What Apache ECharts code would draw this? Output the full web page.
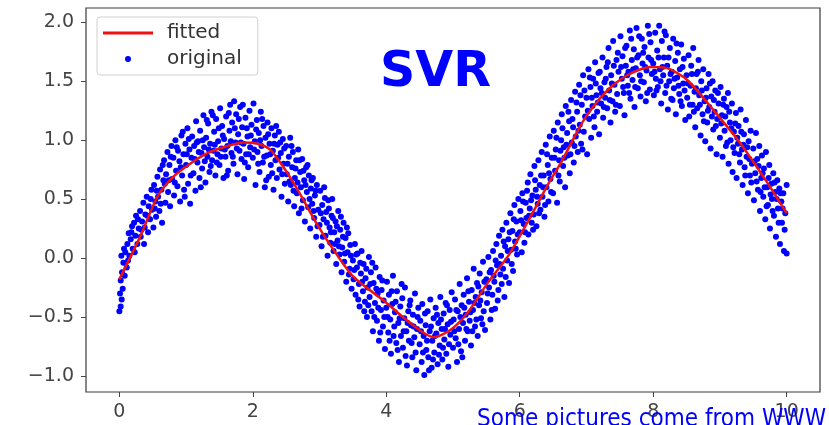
<!DOCTYPE html>
<html>
<head>
<meta charset="utf-8">
<script src="https://cdn.jsdelivr.net/npm/echarts@6/dist/echarts.min.js"></script>
<style>
  html, body { margin: 0; padding: 0; background: #fff; }
  #chart { width: 829px; height: 425px; }
</style>
</head>
<body>
<div id="chart"></div>
<script>
/*==========坐标轴刻度==========*/
const xTicks = [0, 2, 4, 6, 8, 10]
const yTicks = [-1, -0.5, 0, 0.5, 1, 1.5, 2]

/*==========拟合曲线 (fitted)==========*/
const fittedX = [0, 0.31, 0.57, 0.81, 1.06, 1.32, 1.56, 1.86, 2.07, 2.26, 2.46, 2.67, 2.97, 3.21, 3.51, 3.96, 4.36, 4.71, 4.96, 5.21, 5.52, 5.84, 6.16, 6.46, 6.61, 6.96, 7.31, 7.61, 7.96, 8.21, 8.51, 8.91, 9.31, 9.71, 10.0]
const fittedY = [-0.18, 0.18, 0.52, 0.69, 0.80, 0.89, 0.94, 0.98, 0.97, 0.92, 0.77, 0.58, 0.28, 0.07, -0.16, -0.36, -0.55, -0.67, -0.61, -0.47, -0.21, 0.03, 0.35, 0.66, 0.80, 1.17, 1.42, 1.55, 1.62, 1.61, 1.51, 1.25, 0.97, 0.64, 0.38]

/*==========原始散点 (original)==========*/
const originalPoints = [
  [0.00,-0.45],[0.01,-0.30],[0.02,-0.19],[0.02,-0.41],[0.03,0.02],[0.04,-0.12],[0.05,-0.26],[0.06,-0.04],[0.08,-0.15],[0.09,0.05],[0.11,-0.08],[0.12,0.12],[0.14,0.21],[0.15,0.02],[0.17,0.16],[0.19,0.27],[0.20,0.08],[0.22,0.30],[0.24,0.19],[0.25,0.36],[0.27,0.12],[0.29,0.25],[0.31,0.40],[0.32,0.18],[0.34,0.31],[0.36,0.47],[0.38,0.26],[0.39,0.37],[0.41,0.52],[0.43,0.22],[0.44,0.44],[0.46,0.33],[0.48,0.58],[0.49,0.41],
  [0.51,0.26],[0.52,0.62],[0.54,0.48],[0.55,0.35],[0.57,0.69],[0.58,0.52],[0.60,0.40],[0.61,0.75],[0.63,0.58],[0.64,0.30],[0.66,0.66],[0.67,0.83],[0.69,0.47],[0.70,0.71],[0.72,0.90],[0.73,0.56],[0.75,0.79],[0.76,0.44],[0.78,0.95],[0.79,0.67],[0.81,0.85],[0.82,0.53],[0.84,1.00],[0.85,0.74],[0.87,0.61],[0.88,0.91],[0.90,0.82],[0.91,0.48],[0.93,1.04],[0.94,0.70],[0.96,0.88],[0.97,0.58],[0.99,0.97],
  [1.00,0.79],[1.02,1.10],[1.03,0.63],[1.05,0.92],[1.06,0.46],[1.08,0.85],[1.09,1.03],[1.11,0.72],[1.12,0.95],[1.14,0.57],[1.15,1.16],[1.17,0.81],[1.18,0.99],[1.20,0.68],[1.21,1.08],[1.23,0.89],[1.24,0.76],[1.26,1.21],[1.27,0.94],[1.29,0.64],[1.30,1.02],[1.32,0.86],[1.33,1.14],[1.35,0.73],[1.36,0.97],[1.38,1.24],[1.39,0.83],[1.41,0.91],[1.42,1.07],[1.44,0.70],[1.45,1.18],[1.47,0.88],[1.48,0.99],
  [1.50,0.79],[1.51,1.27],[1.53,0.93],[1.54,1.12],[1.56,0.68],[1.57,1.01],[1.59,0.86],[1.60,1.20],[1.62,0.95],[1.63,0.74],[1.65,1.08],[1.66,1.30],[1.68,0.89],[1.69,1.15],[1.71,0.80],[1.72,1.33],[1.74,0.98],[1.75,1.22],[1.77,0.71],[1.78,1.05],[1.80,0.91],[1.81,1.28],[1.83,0.84],[1.84,1.11],[1.86,0.97],[1.87,0.67],[1.89,1.19],[1.90,0.88],[1.92,1.03],[1.93,0.77],[1.95,1.25],[1.96,0.94],[1.98,1.13],
  [2.00,0.85],[2.01,1.31],[2.03,0.99],[2.04,0.62],[2.06,1.17],[2.07,0.90],[2.09,1.06],[2.10,0.73],[2.12,1.24],[2.13,0.95],[2.15,0.81],[2.16,1.12],[2.18,0.60],[2.19,1.02],[2.21,0.87],[2.22,1.15],[2.24,0.69],[2.25,0.97],[2.27,0.79],[2.28,1.10],[2.30,0.91],[2.31,0.58],[2.33,1.04],[2.34,0.83],[2.36,0.68],[2.37,0.96],[2.39,1.07],[2.40,0.75],[2.42,0.89],[2.43,0.52],[2.45,1.01],[2.46,0.80],[2.48,0.63],
  [2.50,0.95],[2.51,0.71],[2.53,0.48],[2.54,0.86],[2.56,1.02],[2.57,0.62],[2.59,0.77],[2.60,0.90],[2.62,0.44],[2.63,0.68],[2.65,0.83],[2.66,0.55],[2.68,0.92],[2.69,0.38],[2.71,0.73],[2.72,0.60],[2.74,0.84],[2.75,0.49],[2.77,0.66],[2.78,0.31],[2.80,0.77],[2.81,0.56],[2.83,0.43],[2.84,0.70],[2.86,0.25],[2.87,0.59],[2.89,0.46],[2.90,0.68],[2.92,0.34],[2.93,0.53],[2.95,0.18],[2.96,0.62],[2.98,0.41],
  [3.00,0.28],[3.01,0.57],[3.03,0.10],[3.04,0.45],[3.06,0.33],[3.07,0.60],[3.09,0.19],[3.10,0.39],[3.12,0.02],[3.13,0.49],[3.15,0.26],[3.16,0.13],[3.18,0.36],[3.19,0.50],[3.21,0.06],[3.22,0.22],[3.24,0.31],[3.25,-0.05],[3.27,0.15],[3.28,0.40],[3.30,0.03],[3.31,0.24],[3.33,-0.12],[3.34,0.09],[3.36,0.30],[3.37,-0.03],[3.39,0.17],[3.40,-0.20],[3.42,0.05],[3.43,0.21],[3.45,-0.09],[3.46,0.11],[3.48,-0.26],
  [3.50,-0.02],[3.51,-0.18],[3.53,0.12],[3.54,-0.31],[3.56,-0.08],[3.57,0.04],[3.59,-0.22],[3.60,-0.41],[3.62,-0.13],[3.63,0.06],[3.65,-0.28],[3.66,-0.05],[3.68,-0.37],[3.69,-0.17],[3.71,-0.50],[3.72,-0.25],[3.74,0.01],[3.75,-0.33],[3.77,-0.12],[3.78,-0.45],[3.80,-0.62],[3.81,-0.21],[3.83,-0.38],[3.84,-0.08],[3.86,-0.53],[3.87,-0.30],[3.89,-0.70],[3.90,-0.16],[3.92,-0.44],[3.93,-0.27],[3.95,-0.58],[3.96,-0.36],[3.98,-0.77],
  [4.00,-0.42],[4.01,-0.20],[4.03,-0.63],[4.04,-0.31],[4.06,-0.52],[4.07,-0.81],[4.09,-0.39],[4.10,-0.15],[4.12,-0.58],[4.13,-0.46],[4.15,-0.72],[4.16,-0.28],[4.18,-0.55],[4.19,-0.88],[4.21,-0.41],[4.22,-0.66],[4.24,-0.34],[4.25,-0.76],[4.27,-0.51],[4.28,-0.25],[4.30,-0.62],[4.31,-0.91],[4.33,-0.45],[4.34,-0.70],[4.36,-0.36],[4.37,-0.57],[4.39,-0.84],[4.40,-0.48],[4.42,-0.67],[4.43,-0.30],[4.45,-0.95],[4.46,-0.60],[4.48,-0.42],
  [4.50,-0.73],[4.51,-0.53],[4.53,-0.88],[4.54,-0.39],[4.56,-0.66],[4.57,-0.99],[4.59,-0.57],[4.60,-0.78],[4.62,-0.45],[4.63,-0.84],[4.65,-0.62],[4.66,-0.35],[4.68,-0.93],[4.69,-0.70],[4.71,-0.51],[4.72,-0.80],[4.74,-0.42],[4.75,-0.64],[4.77,-0.90],[4.78,-0.55],[4.80,-0.74],[4.81,-0.33],[4.83,-0.60],[4.84,-0.86],[4.86,-0.47],[4.87,-0.69],[4.89,-0.38],[4.90,-0.81],[4.92,-0.56],[4.93,-0.92],[4.95,-0.44],[4.96,-0.65],[4.98,-0.29],
  [5.00,-0.76],[5.01,-0.52],[5.03,-0.35],[5.04,-0.68],[5.06,-0.88],[5.07,-0.45],[5.09,-0.60],[5.10,-0.22],[5.12,-0.79],[5.13,-0.40],[5.15,-0.55],[5.16,-0.31],[5.18,-0.70],[5.19,-0.48],[5.21,-0.17],[5.22,-0.62],[5.24,-0.37],[5.25,-0.53],[5.27,-0.74],[5.28,-0.27],[5.30,-0.44],[5.31,-0.09],[5.33,-0.58],[5.34,-0.33],[5.36,-0.21],[5.37,-0.66],[5.39,-0.40],[5.40,-0.13],[5.42,-0.51],[5.43,-0.29],[5.45,-0.03],[5.46,-0.45],[5.48,-0.61],
  [5.50,-0.18],[5.51,-0.38],[5.53,0.01],[5.54,-0.25],[5.56,-0.52],[5.57,-0.10],[5.59,-0.31],[5.60,0.06],[5.62,-0.20],[5.63,-0.43],[5.65,0.12],[5.66,-0.06],[5.68,-0.27],[5.69,0.19],[5.71,-0.14],[5.72,0.02],[5.74,0.24],[5.75,-0.09],[5.77,-0.33],[5.78,0.10],[5.80,0.30],[5.81,-0.02],[5.83,0.16],[5.84,-0.21],[5.86,0.38],[5.87,0.07],[5.89,0.23],[5.90,-0.11],[5.92,0.45],[5.93,0.14],[5.95,0.31],[5.96,0.03],[5.98,0.50],
  [6.00,0.22],[6.01,0.40],[6.03,0.05],[6.04,0.55],[6.06,0.29],[6.07,0.13],[6.09,0.47],[6.10,0.34],[6.12,0.64],[6.13,0.20],[6.15,0.42],[6.16,0.71],[6.18,0.30],[6.19,0.53],[6.21,0.37],[6.22,0.78],[6.24,0.58],[6.25,0.27],[6.27,0.46],[6.28,0.83],[6.30,0.62],[6.31,0.41],[6.33,0.90],[6.34,0.52],[6.36,0.70],[6.37,0.35],[6.39,0.96],[6.40,0.60],[6.42,0.79],[6.43,0.48],[6.45,1.03],[6.46,0.67],[6.48,0.85],
  [6.50,0.55],[6.51,1.08],[6.53,0.74],[6.54,0.92],[6.56,0.47],[6.57,1.15],[6.59,0.83],[6.60,0.65],[6.62,1.00],[6.63,1.22],[6.65,0.78],[6.66,0.94],[6.68,0.60],[6.69,1.29],[6.71,1.06],[6.72,0.87],[6.74,1.16],[6.75,0.72],[6.77,1.34],[6.78,0.98],[6.80,1.11],[6.81,0.81],[6.83,1.41],[6.84,1.03],[6.86,1.24],[6.87,0.90],[6.89,1.47],[6.90,1.13],[6.92,0.97],[6.93,1.30],[6.95,1.55],[6.96,1.07],[6.98,1.20],
  [7.00,1.36],[7.01,0.88],[7.03,1.60],[7.04,1.18],[7.06,1.45],[7.07,1.02],[7.09,1.29],[7.10,1.52],[7.12,1.11],[7.13,1.66],[7.15,1.38],[7.16,1.24],[7.18,1.57],[7.19,1.05],[7.21,1.44],[7.22,1.31],[7.24,1.70],[7.25,1.19],[7.27,1.49],[7.28,1.36],[7.30,1.62],[7.31,1.27],[7.33,1.78],[7.34,1.42],[7.36,1.15],[7.37,1.55],[7.39,1.33],[7.40,1.84],[7.42,1.47],[7.43,1.24],[7.45,1.68],[7.46,1.39],[7.48,1.58],
  [7.50,1.29],[7.51,1.88],[7.53,1.52],[7.54,1.71],[7.56,1.40],[7.57,1.21],[7.59,1.63],[7.60,1.80],[7.62,1.46],[7.63,1.58],[7.65,1.93],[7.66,1.35],[7.68,1.68],[7.69,1.51],[7.71,1.77],[7.72,1.28],[7.74,1.61],[7.75,1.95],[7.77,1.44],[7.78,1.72],[7.80,1.55],[7.81,1.37],[7.83,1.86],[7.84,1.65],[7.86,1.49],[7.87,1.79],[7.89,1.33],[7.90,1.59],[7.92,1.97],[7.93,1.70],[7.95,1.43],[7.96,1.83],[7.98,1.56],
  [8.00,1.65],[8.01,1.38],[8.03,1.91],[8.04,1.52],[8.06,1.76],[8.07,1.45],[8.09,1.97],[8.10,1.60],[8.12,1.31],[8.13,1.84],[8.15,1.55],[8.16,1.70],[8.18,1.40],[8.19,1.89],[8.21,1.63],[8.22,1.26],[8.24,1.50],[8.25,1.78],[8.27,1.35],[8.28,1.58],[8.30,1.86],[8.31,1.44],[8.33,1.67],[8.34,1.22],[8.36,1.53],[8.37,1.74],[8.39,1.39],[8.40,1.60],[8.42,1.81],[8.43,1.29],[8.45,1.48],[8.46,1.69],[8.48,1.17],
  [8.50,1.55],[8.51,1.36],[8.53,1.72],[8.54,1.20],[8.56,1.46],[8.57,1.63],[8.59,1.30],[8.60,1.78],[8.62,1.41],[8.63,1.11],[8.65,1.56],[8.66,1.27],[8.68,1.68],[8.69,1.38],[8.71,1.04],[8.72,1.50],[8.74,1.22],[8.75,1.60],[8.77,1.33],[8.78,0.99],[8.80,1.44],[8.81,1.15],[8.83,1.56],[8.84,1.28],[8.86,0.93],[8.87,1.37],[8.89,1.50],[8.90,1.09],[8.92,1.24],[8.93,1.42],[8.95,0.88],[8.96,1.18],[8.98,1.31],
  [9.00,1.02],[9.01,1.45],[9.03,1.21],[9.04,0.86],[9.06,1.35],[9.07,1.08],[9.09,0.95],[9.10,1.28],[9.12,1.40],[9.13,0.80],[9.15,1.15],[9.16,1.00],[9.18,1.31],[9.19,0.73],[9.21,1.07],[9.22,0.89],[9.24,1.23],[9.25,0.68],[9.27,0.97],[9.28,1.12],[9.30,0.81],[9.31,1.26],[9.33,0.92],[9.34,0.62],[9.36,1.05],[9.37,0.77],[9.39,1.17],[9.40,0.86],[9.42,0.55],[9.43,0.99],[9.45,0.70],[9.46,1.08],[9.48,0.80],
  [9.50,0.93],[9.51,0.49],[9.53,0.72],[9.54,1.06],[9.56,0.84],[9.57,0.58],[9.59,0.95],[9.60,0.40],[9.62,0.68],[9.63,0.87],[9.65,0.52],[9.66,0.76],[9.68,0.33],[9.69,0.90],[9.71,0.60],[9.72,0.45],[9.74,0.79],[9.75,0.25],[9.77,0.63],[9.78,0.50],[9.80,0.72],[9.81,0.36],[9.83,0.56],[9.84,0.18],[9.86,0.66],[9.87,0.42],[9.89,0.59],[9.90,0.12],[9.92,0.48],[9.93,0.30],[9.95,0.55],[9.96,0.06],[9.98,0.38],[10.00,0.62],[10.00,0.04]
]

// 补充的散点, 填补带状区域中间的空隙
const originalPointsExtra = [
  [0.035,-0.35],[0.07,0.08],[0.13,-0.02],[0.18,0.22],[0.23,0.05],[0.28,0.33],[0.33,0.24],[0.37,0.12],[0.42,0.36],[0.47,0.50],
  [0.53,0.42],[0.56,0.57],[0.62,0.46],[0.65,0.79],[0.68,0.63],[0.74,0.66],[0.77,0.86],[0.83,0.64],[0.86,0.94],[0.92,0.77],[0.95,1.07],[0.98,0.52],
  [1.01,0.88],[1.04,1.01],[1.07,0.70],[1.13,0.84],[1.16,0.98],[1.19,0.90],[1.22,0.60],[1.25,1.00],[1.28,0.82],[1.31,1.17],[1.34,0.92],[1.37,0.78],[1.40,1.21],[1.43,0.96],[1.46,0.81],[1.49,1.10],
  [1.52,0.86],[1.55,1.04],[1.58,0.92],[1.61,0.70],[1.64,1.23],[1.67,0.99],[1.70,0.86],[1.73,1.10],[1.76,0.93],[1.79,1.18],[1.82,0.98],[1.85,1.30],[1.88,0.81],[1.91,1.10],[1.94,0.88],[1.97,1.04],
  [2.02,0.92],[2.05,1.09],[2.08,0.80],[2.11,1.00],[2.14,1.18],[2.17,0.86],[2.20,0.66],[2.23,1.05],[2.26,0.88],[2.29,0.72],[2.32,0.97],[2.35,1.12],[2.38,0.85],[2.41,0.98],[2.44,0.71],[2.47,0.93],
  [2.52,0.80],[2.55,0.65],[2.58,0.95],[2.61,0.57],[2.64,0.76],[2.67,0.64],[2.70,0.83],[2.73,0.42],[2.76,0.74],[2.79,0.62],[2.82,0.79],[2.85,0.50],[2.88,0.66],[2.91,0.40],[2.94,0.57],[2.97,0.27],
  [3.02,0.38],[3.05,0.18],[3.08,0.51],[3.11,0.30],[3.14,0.42],[3.17,0.22],[3.20,0.34],[3.23,0.12],[3.26,0.27],[3.29,0.10],[3.32,0.35],[3.35,0.18],[3.38,0.04],[3.41,0.26],[3.44,-0.14],[3.47,0.02],
  [3.52,-0.10],[3.55,0.03],[3.58,-0.35],[3.61,-0.04],[3.64,-0.20],[3.67,-0.45],[3.70,-0.09],[3.73,-0.40],[3.76,-0.22],[3.79,-0.04],[3.82,-0.50],[3.85,-0.26],[3.88,-0.42],[3.91,-0.63],[3.94,-0.19],[3.97,-0.50],
  [4.02,-0.50],[4.05,-0.70],[4.08,-0.28],[4.11,-0.66],[4.14,-0.37],[4.17,-0.78],[4.20,-0.51],[4.23,-0.22],[4.26,-0.62],[4.29,-0.83],[4.32,-0.55],[4.35,-0.40],[4.38,-0.72],[4.41,-0.58],[4.44,-0.80],[4.47,-0.50],
  [4.52,-0.62],[4.55,-0.80],[4.58,-0.47],[4.61,-0.70],[4.64,-0.95],[4.67,-0.58],[4.70,-0.86],[4.73,-0.66],[4.76,-0.48],[4.79,-0.82],[4.82,-0.52],[4.85,-0.76],[4.88,-0.60],[4.91,-0.40],[4.94,-0.73],[4.97,-0.54],
  [5.02,-0.62],[5.05,-0.44],[5.08,-0.73],[5.11,-0.50],[5.14,-0.84],[5.17,-0.42],[5.20,-0.60],[5.23,-0.28],[5.26,-0.46],[5.29,-0.62],[5.32,-0.38],[5.35,-0.52],[5.38,-0.24],[5.41,-0.36],[5.44,-0.56],[5.47,-0.20],
  [5.52,-0.30],[5.55,-0.12],[5.58,-0.44],[5.61,-0.15],[5.64,-0.02],[5.67,-0.36],[5.70,-0.05],[5.73,-0.22],[5.76,0.14],[5.79,-0.16],[5.82,0.06],[5.85,0.22],[5.88,-0.05],[5.91,0.33],[5.94,0.08],[5.97,0.20],
  [6.02,0.32],[6.05,0.48],[6.08,0.22],[6.11,0.57],[6.14,0.36],[6.17,0.49],[6.20,0.24],[6.23,0.66],[6.26,0.52],[6.29,0.38],[6.32,0.70],[6.35,0.60],[6.38,0.45],[6.41,0.88],[6.44,0.72],[6.47,0.56],
  [6.52,0.85],[6.55,1.02],[6.58,0.70],[6.61,0.91],[6.64,1.10],[6.67,0.85],[6.70,0.96],[6.73,1.24],[6.76,0.88],[6.79,1.18],[6.82,0.95],[6.85,1.32],[6.88,1.08],[6.91,1.38],[6.94,0.92],[6.97,1.42],
  [7.02,1.25],[7.05,1.53],[7.08,1.36],[7.11,1.20],[7.14,1.48],[7.17,1.32],[7.20,1.58],[7.23,1.40],[7.26,1.28],[7.29,1.52],[7.32,1.66],[7.35,1.34],[7.38,1.48],[7.41,1.63],[7.44,1.30],[7.47,1.74],
  [7.52,1.62],[7.55,1.45],[7.58,1.78],[7.61,1.55],[7.64,1.40],[7.67,1.86],[7.70,1.60],[7.73,1.45],[7.76,1.70],[7.79,1.88],[7.82,1.50],[7.85,1.74],[7.88,1.62],[7.91,1.40],[7.94,1.90],[7.97,1.68],
  [8.02,1.58],[8.05,1.42],[8.08,1.70],[8.11,1.50],[8.14,1.62],[8.17,1.92],[8.20,1.46],[8.23,1.70],[8.26,1.56],[8.29,1.34],[8.32,1.52],[8.35,1.82],[8.38,1.46],[8.41,1.33],[8.44,1.62],[8.47,1.42],
  [8.52,1.48],[8.55,1.30],[8.58,1.56],[8.61,1.24],[8.64,1.44],[8.67,1.58],[8.70,1.30],[8.73,1.42],[8.76,1.16],[8.79,1.36],[8.82,1.25],[8.85,1.48],[8.88,1.20],[8.91,1.34],[8.94,1.12],[8.97,1.40],
  [9.02,1.14],[9.05,1.30],[9.08,1.20],[9.11,0.98],[9.14,1.24],[9.17,1.10],[9.20,0.94],[9.23,1.14],[9.26,1.02],[9.29,0.88],[9.32,1.07],[9.35,0.96],[9.38,0.70],[9.41,0.94],[9.44,0.84],[9.47,0.64],
  [9.52,0.82],[9.55,0.65],[9.58,0.78],[9.61,0.56],[9.64,0.72],[9.67,0.60],[9.70,0.44],[9.73,0.68],[9.76,0.54],[9.79,0.40],[9.82,0.64],[9.85,0.50],[9.88,0.30],[9.91,0.55],[9.94,0.42],[9.97,0.24]
]

const labelColor = '#444'
const fontFamily = '"DejaVu Sans", sans-serif'

// 负号用 matplotlib 的 U+2212
function fmt(v) {
  return v.toFixed(1).replace('-', '\u2212')
}

const chart = echarts.init(document.getElementById('chart'))

chart.setOption({
  animation: false,
  backgroundColor: '#fff',
  title: {
    text: 'SVR',
    left: 375,
    top: 44,
    textStyle: { color: '#0000ff', fontSize: 49, fontWeight: 'bold', fontFamily: fontFamily }
  },
  legend: {
    orient: 'vertical',
    left: 97,
    top: 17,
    padding: [6, 16, 6, 6],
    itemWidth: 50,
    itemHeight: 6,
    itemGap: 6,
    backgroundColor: '#fff',
    borderColor: '#d0d0d0',
    borderWidth: 1,
    borderRadius: 3,
    textStyle: { color: '#333', fontSize: 20, fontFamily: fontFamily, padding: [0, 0, 0, 9] },
    data: [
      // 细长条当作线段图例
      { name: 'fitted', icon: 'path://M0,0H50V3H0Z' },
      { name: 'original', icon: 'circle' }
    ]
  },
  grid: {
    left: 86,
    right: 9,
    top: 8,
    bottom: 33,
    show: true,
    borderColor: '#3a3a3a',
    borderWidth: 1.2
  },
  xAxis: {
    type: 'value',
    min: -0.5,
    max: 10.5,
    axisLine: { show: false, onZero: false },
    splitLine: { show: false },
    axisTick: { show: true, inside: false, length: 5, lineStyle: { color: labelColor }, customValues: xTicks },
    axisLabel: { color: labelColor, fontSize: 19, fontFamily: fontFamily, margin: 11, customValues: xTicks, formatter: v => String(v) }
  },
  yAxis: {
    type: 'value',
    min: -1.135,
    max: 2.12,
    axisLine: { show: false, onZero: false },
    splitLine: { show: false },
    axisTick: { show: true, inside: false, length: 5, lineStyle: { color: labelColor }, customValues: yTicks },
    axisLabel: { color: labelColor, fontSize: 19, fontFamily: fontFamily, margin: 12, customValues: yTicks, formatter: fmt }
  },
  graphic: [
    {
      type: 'text',
      right: 3,
      top: 408,
      z: 100,
      style: {
        text: 'Some pictures come from WWW',
        fill: '#0000ff',
        font: '24px "DejaVu Sans Condensed", "DejaVu Sans", sans-serif'
      }
    }
  ],
  series: [
    {
      name: 'original',
      type: 'scatter',
      symbol: 'circle',
      symbolSize: 6,
      itemStyle: { color: '#0000ff', opacity: 1 },
      data: originalPoints.concat(originalPointsExtra),
      z: 2
    },
    {
      name: 'fitted',
      type: 'line',
      symbol: 'none',
      smooth: 0.25,
      lineStyle: { color: '#ee1111', width: 2.5 },
      itemStyle: { color: '#ee1111' },
      data: fittedX.map((x, i) => [x, fittedY[i]]),
      z: 3
    }
  ]
})
</script>
</body>
</html>
